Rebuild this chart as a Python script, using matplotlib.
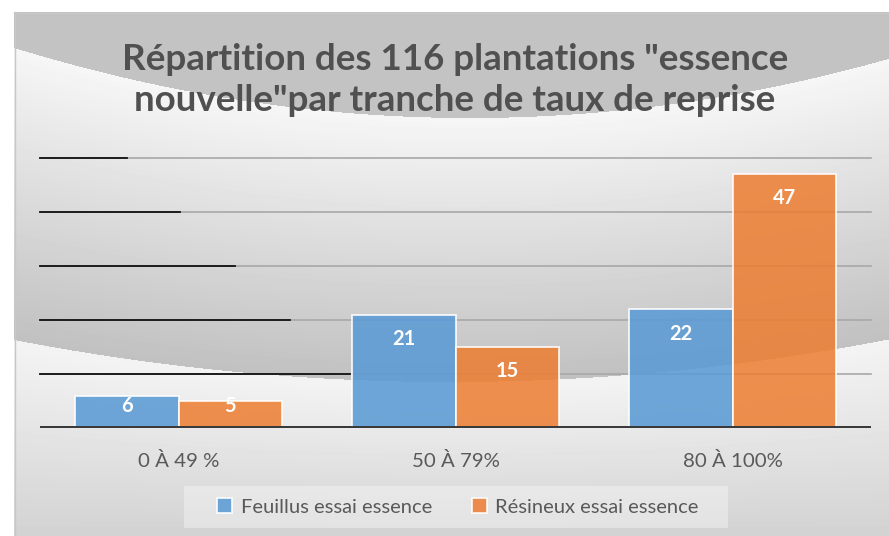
import numpy as np
import matplotlib
matplotlib.use("Agg")
import matplotlib.pyplot as plt

plt.rcParams['font.family'] = ['Lato', 'DejaVu Sans']

# data
categories = ["0 À 49 %", "50 À 79%", "80 À 100%"]
feuillus = [6, 21, 22]
resineux = [5, 15, 47]
series_names = ["Feuillus essai essence", "Résineux essai essence"]
title = 'Répartition des 116 plantations "essence\nnouvelle"par tranche de taux de reprise'

W, H = 889, 536
fig = plt.figure(figsize=(W / 100, H / 100), dpi=100, facecolor="white")

# background (excel-like wave gradient)
bg = fig.add_axes([0, 0, 1, 1], zorder=0)
bg.set_xlim(0, W)
bg.set_ylim(H, 0)
bg.axis("off")
xx, yy = np.meshgrid(np.arange(W) + 0.5, np.arange(H) + 0.5)
c1 = 118 - 3.37e-4 * (xx - 470) ** 2
c2 = 382 - 2.21e-4 * (xx - 450) ** 2
img = np.ones((H, W))
top = yy < c1
mid = (yy >= c1) & (yy < c2)
low = yy >= c2
img[top] = 0.765
t = (yy - c1) / np.maximum(c2 - c1, 1)
img[mid] = (0.965 - 0.21 * t)[mid]
t2 = (yy - c2) / np.maximum(H - c2, 1)
img[low] = (0.955 - 0.13 * t2)[low]
img[(xx < 14) | (yy < 12)] = 1.0
bg.imshow(img, cmap="gray", vmin=0, vmax=1, extent=[0, W, H, 0], aspect="auto",
          interpolation="bilinear")
bg.plot([14.5, 14.5], [12, H], color="#c8c8c8", lw=1)
bg.plot([14, W], [12.5, 12.5], color="#c8c8c8", lw=1)

# main axes
x0, x1, yb, yt = 40, 871, 428, 158
ax = fig.add_axes([x0 / W, 1 - yb / H, (x1 - x0) / W, (yb - yt) / H], zorder=2)
ax.patch.set_alpha(0)
ax.set_xlim(-0.5, 2.5)
ax.set_ylim(0, 50)
for s in ax.spines.values():
    s.set_visible(False)
ax.set_yticks([])
x = np.arange(len(categories))
ax.set_xticks(x)
ax.set_xticklabels(categories, fontsize=14.7, color="#595959")
ax.tick_params(axis="x", length=0, pad=17)

# gridlines (with the dark left part seen in the reference)
black_end = {50: -0.186, 40: 0.005, 30: 0.204, 20: 0.403, 10: 0.62}
for g in [10, 20, 30, 40, 50]:
    ax.plot([-0.5, 2.5], [g, g], color="#a8a8a8", lw=1.2, zorder=1, clip_on=False)
    ax.plot([-0.5, black_end[g]], [g, g], color="#111111", lw=1.3, zorder=1,
            clip_on=False)

bw = 0.375
b1 = ax.bar(x - bw / 2, feuillus, bw, color="#5B9BD5", alpha=0.88,
            edgecolor="white", linewidth=1.3, zorder=3, label=series_names[0])
b2 = ax.bar(x + bw / 2, resineux, bw, color="#ED7D31", alpha=0.85,
            edgecolor="white", linewidth=1.3, zorder=3, label=series_names[1])
ax.axhline(0, color="#3a3a3a", lw=3.6, zorder=4)

for bars, vals in [(b1, feuillus), (b2, resineux)]:
    for r, v in zip(bars, vals):
        ax.text(r.get_x() + r.get_width() / 2, max(v - 4.5, 4.0), str(v),
                ha="center", va="center", color="white", fontsize=14.5,
                fontweight="bold", zorder=5)

fig.text(455 / W, 1 - 80 / H, title, ha="center", va="center", fontsize=26.5,
         fontweight="bold", color="#505050", linespacing=1.28)

# legend box
bg.add_patch(plt.Rectangle((184, 486), 544, 42, facecolor="white", alpha=0.35,
                           edgecolor="none"))
leg = fig.legend(handles=[b1, b2], labels=series_names, loc="center",
                 bbox_to_anchor=(458 / W, 1 - 507 / H), ncol=2, frameon=False,
                 fontsize=14.5, handlelength=0.75, handleheight=0.75,
                 handletextpad=0.4, columnspacing=2.0)
for txt in leg.get_texts():
    txt.set_color("#595959")

fig.savefig("out.png", dpi=100, facecolor="white")
